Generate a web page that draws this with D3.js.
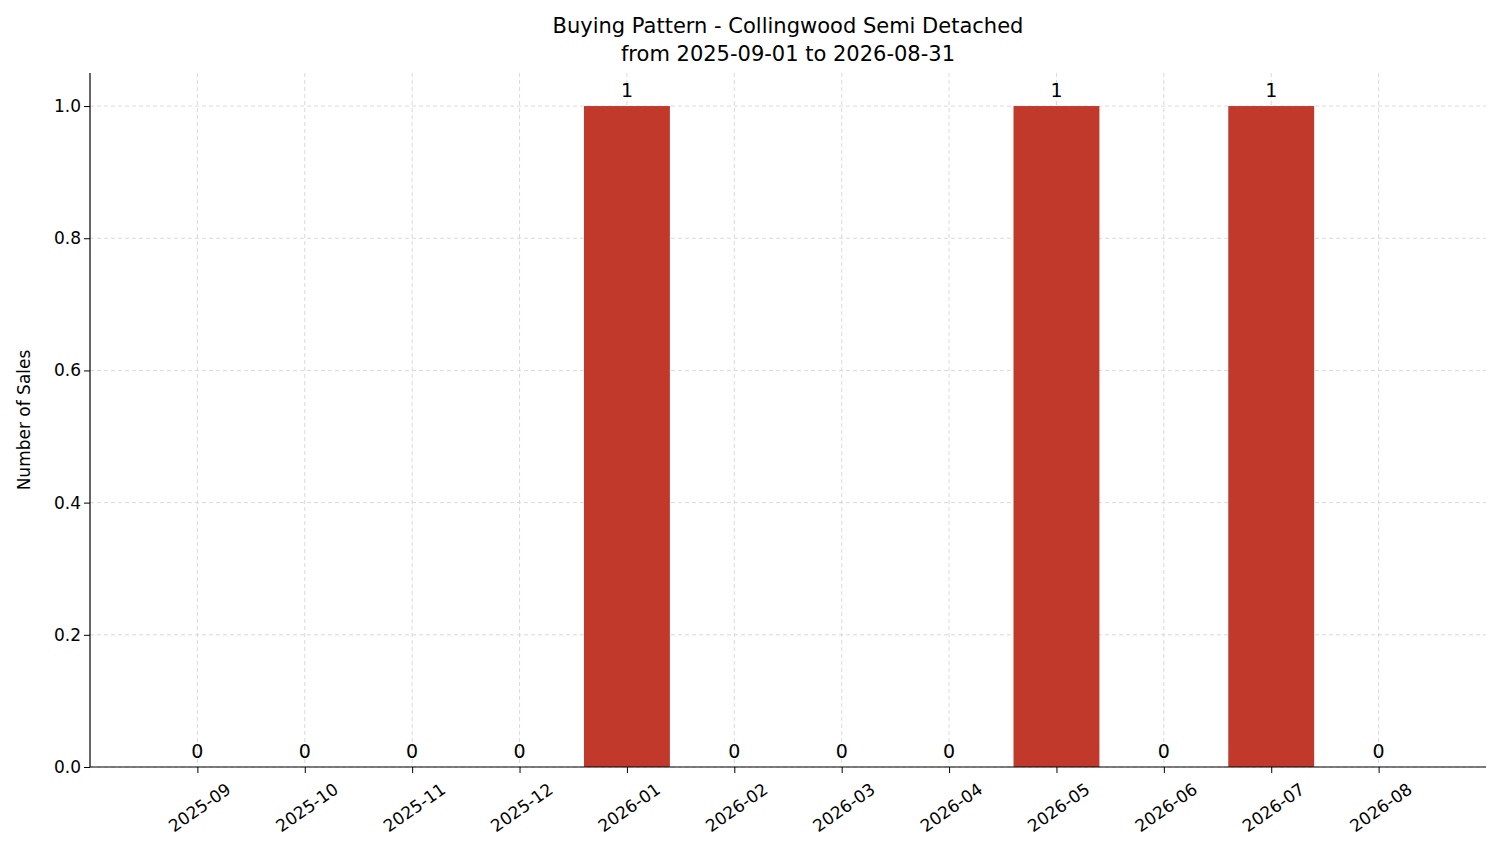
<!DOCTYPE html>
<html><head><meta charset="utf-8">
<script src="https://cdn.jsdelivr.net/npm/d3@7"></script>
<style>body{margin:0;background:#fff}text{font-family:"DejaVu Sans",sans-serif}</style>
</head><body><svg id="c" width="1501" height="863"></svg>
<script>
const months = ["2025-09","2025-10","2025-11","2025-12","2026-01","2026-02","2026-03","2026-04","2026-05","2026-06","2026-07","2026-08"];
const sales = [0,0,0,0,1,0,0,0,1,0,1,0];
const yTicks = [0,0.2,0.4,0.6,0.8,1.0];
const titleLines = ["Buying Pattern - Collingwood Semi Detached","from 2025-09-01 to 2026-08-31"];

const svg = d3.select("#c");
const L=90,R=1486,T=73,B=767;
const x = d3.scaleLinear().domain([-1,12]).range([L,R]);
const y = d3.scaleLinear().domain([0,1.05]).range([B,T]);
const bw = (x(1)-x(0))*0.8;

// grid
svg.append("g").selectAll("line").data(yTicks).join("line")
 .attr("x1",L).attr("x2",R).attr("y1",d=>y(d)).attr("y2",d=>y(d))
 .attr("stroke","#d0d0d0").attr("stroke-width",0.8).attr("stroke-dasharray","4,3");
svg.append("g").selectAll("line").data(months).join("line")
 .attr("x1",(d,i)=>x(i)).attr("x2",(d,i)=>x(i)).attr("y1",T).attr("y2",B)
 .attr("stroke","#d0d0d0").attr("stroke-width",0.8).attr("stroke-dasharray","4,3");

// bars
svg.append("g").selectAll("rect").data(sales).join("rect")
 .attr("x",(d,i)=>x(i)-bw/2).attr("width",bw)
 .attr("y",d=>y(d)).attr("height",d=>B-y(d)).attr("fill","#c0392b");
svg.append("g").selectAll("text").data(sales).join("text")
 .attr("x",(d,i)=>x(i)).attr("y",d=>y(d)-9).attr("text-anchor","middle")
 .attr("font-size",19).text(d=>d);

// axes
const ya = svg.append("g").attr("transform",`translate(${L},0)`)
 .call(d3.axisLeft(y).tickValues(yTicks).tickFormat(d3.format(".1f")).tickSizeOuter(0));
ya.selectAll("text").attr("font-size",17).attr("fill","#000");
ya.select(".domain").attr("d",`M0,${B}V${T}`);
const xa = svg.append("g").attr("transform",`translate(0,${B})`)
 .call(d3.axisBottom(x).tickValues(d3.range(12)).tickFormat(i=>months[i]).tickSizeOuter(0));
xa.select(".domain").attr("d",`M${L},0H${R}`);
xa.selectAll("text").attr("font-size",17).attr("fill","#000")
 .attr("text-anchor","middle").attr("dy",0)
 .attr("transform","translate(0,38) rotate(-35)");
svg.selectAll(".domain").attr("stroke","#000").attr("stroke-width",1.2);

svg.append("text").attr("transform",`translate(30,${(T+B)/2}) rotate(-90)`)
 .attr("text-anchor","middle").attr("font-size",17).text("Number of Sales");
svg.selectAll(".title").data(titleLines).join("text")
 .attr("x",(L+R)/2).attr("y",(d,i)=>33+i*28).attr("text-anchor","middle")
 .attr("font-size",21).text(d=>d);
</script></body></html>
